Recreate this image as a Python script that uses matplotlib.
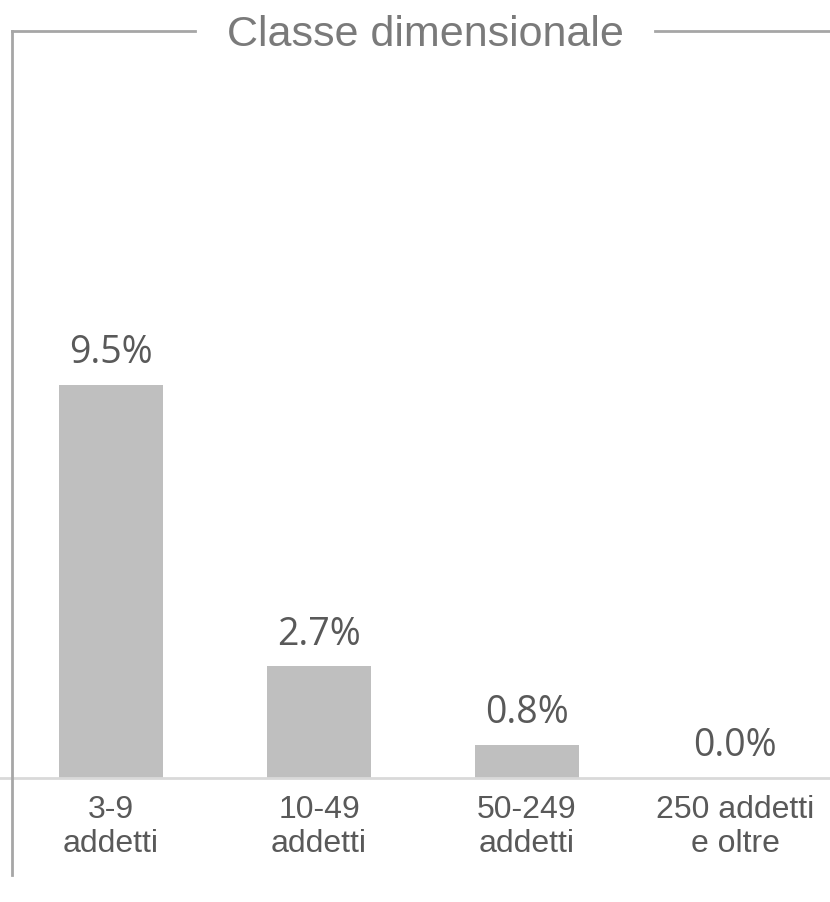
import matplotlib
matplotlib.use("Agg")
import matplotlib.pyplot as plt
from matplotlib.lines import Line2D

# dati
categorie = ["3-9\naddetti", "10-49\naddetti", "50-249\naddetti", "250 addetti\ne oltre"]
valori = [9.5, 2.7, 0.8, 0.0]
titolo = "Classe dimensionale"

W, H = 830, 902
fig = plt.figure(figsize=(W / 100, H / 100), dpi=100)
fig.patch.set_facecolor("white")

# asse: baseline a y=778 px dall'alto, 41.4 px per punto percentuale
ax = fig.add_axes([7 / W, 124 / H, 832 / W, 497 / H])
x = range(len(valori))
ax.bar(x, valori, width=0.5, color="#BFBFBF", zorder=2)
ax.set_xlim(-0.5, 3.5)
ax.set_ylim(0, 12)
for s in ax.spines.values():
    s.set_visible(False)
ax.axhline(0, xmin=-0.01, xmax=1, color="#D9D9D9", lw=2, clip_on=False, zorder=3)
ax.set_yticks([])
ax.set_xticks(list(x))
ax.set_xticklabels(categorie, fontfamily=["Liberation Sans", "DejaVu Sans"],
                   fontsize=23, color="#595959", linespacing=1.2)
ax.tick_params(axis="x", length=0, pad=12)

for i, v in enumerate(valori):
    ax.annotate(f"{v:.1f}%", (i, v), xytext=(0, 9), textcoords="offset points",
                ha="center", va="bottom", fontsize=27, color="#595959",
                fontfamily=["Open Sans", "DejaVu Sans"])

# cornice e titolo
yl = 1 - 31 / H
col = "#A6A6A6"
fig.add_artist(Line2D([12 / W, 195 / W], [yl, yl], color=col, lw=2))
fig.add_artist(Line2D([655 / W, 1.0], [yl, yl], color=col, lw=2))
fig.add_artist(Line2D([12 / W, 12 / W], [yl, 1 - 875 / H], color=col, lw=2))
fig.text(425 / W, 1 - 46 / H, titolo, ha="center", va="baseline", fontsize=31,
         color="#7A7A7A", fontfamily=["Liberation Sans", "DejaVu Sans"])

fig.savefig("out.png", dpi=100)
